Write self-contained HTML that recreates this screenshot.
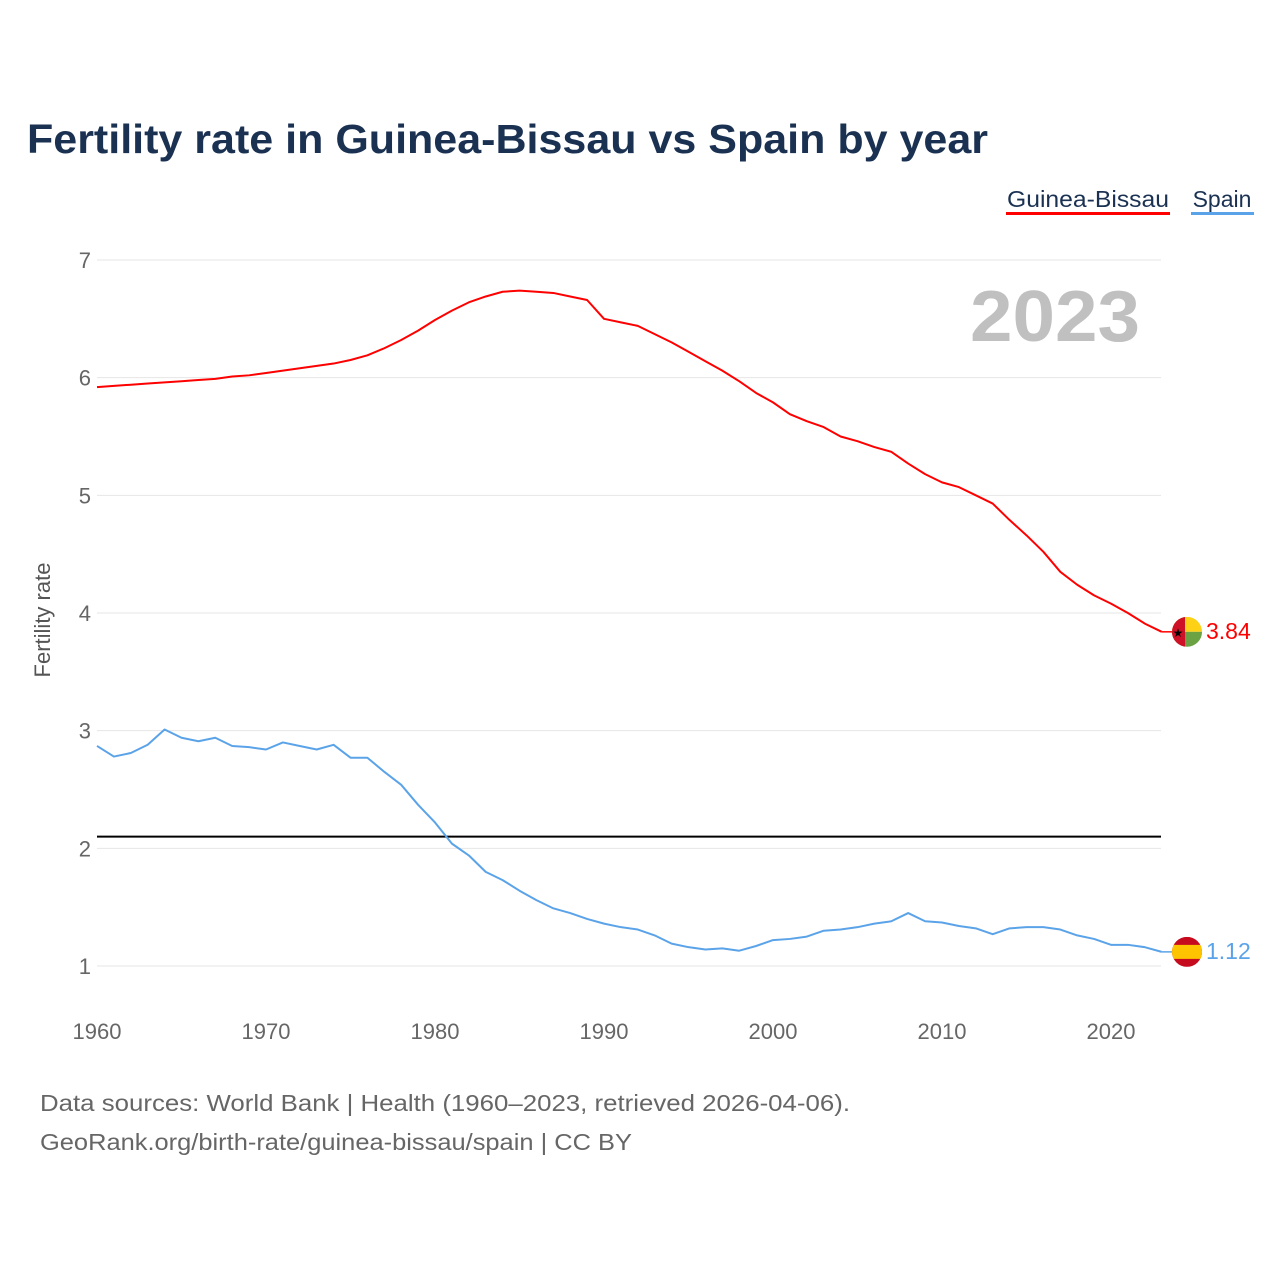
<!DOCTYPE html>
<html><head><meta charset="utf-8"><style>
body{margin:0;background:#fff;font-family:"Liberation Sans",sans-serif;}
svg{display:block}
</style></head><body>
<svg id="c" width="1280" height="1280" xmlns="http://www.w3.org/2000/svg">
<text x="27" y="153" font-size="41" font-weight="bold" fill="#1a3152" textLength="961" lengthAdjust="spacingAndGlyphs">Fertility rate in Guinea-Bissau vs Spain by year</text>
<g>
<text x="1088" y="207" font-size="23" fill="#1a3152" text-anchor="middle" textLength="162" lengthAdjust="spacingAndGlyphs">Guinea-Bissau</text>
<rect x="1006" y="212" width="164" height="3" fill="#ff0000"/>
<text x="1222" y="207" font-size="23" fill="#1a3152" text-anchor="middle">Spain</text>
<rect x="1191" y="212" width="63" height="3" fill="#5ba3e8"/>
</g>
<text x="1140" y="341" font-size="72" font-weight="bold" fill="#c0c0c0" text-anchor="end" textLength="170" lengthAdjust="spacingAndGlyphs">2023</text>
<text transform="translate(50,620) rotate(-90)" font-size="22" fill="#555" text-anchor="middle">Fertility rate</text>
<g id="grid"></g><g id="series"></g>
<text x="40" y="1111" font-size="23" fill="#666" textLength="810" lengthAdjust="spacingAndGlyphs">Data sources: World Bank | Health (1960–2023, retrieved 2026-04-06).</text>
<text x="40" y="1150" font-size="23" fill="#666" textLength="592" lengthAdjust="spacingAndGlyphs">GeoRank.org/birth-rate/guinea-bissau/spain | CC BY</text>
</svg>
<script>
const years=[];for(let y=1960;y<=2023;y++)years.push(y);
const guineaBissau=[5.92,5.93,5.94,5.95,5.96,5.97,5.98,5.99,6.01,6.02,6.04,6.06,6.08,6.10,6.12,6.15,6.19,6.25,6.32,6.40,6.49,6.57,6.64,6.69,6.73,6.74,6.73,6.72,6.69,6.66,6.50,6.47,6.44,6.37,6.30,6.22,6.14,6.06,5.97,5.87,5.79,5.69,5.63,5.58,5.50,5.46,5.41,5.37,5.27,5.18,5.11,5.07,5.00,4.93,4.79,4.66,4.52,4.35,4.24,4.15,4.08,4.00,3.91,3.84];
const spain=[2.87,2.78,2.81,2.88,3.01,2.94,2.91,2.94,2.87,2.86,2.84,2.90,2.87,2.84,2.88,2.77,2.77,2.65,2.54,2.37,2.22,2.04,1.94,1.80,1.73,1.64,1.56,1.49,1.45,1.40,1.36,1.33,1.31,1.26,1.19,1.16,1.14,1.15,1.13,1.17,1.22,1.23,1.25,1.30,1.31,1.33,1.36,1.38,1.45,1.38,1.37,1.34,1.32,1.27,1.32,1.33,1.33,1.31,1.26,1.23,1.18,1.18,1.16,1.12];
const yTicks=[1,2,3,4,5,6,7];
const xTicks=[1960,1970,1980,1990,2000,2010,2020];
const replacement=2.1;
const X=y=>97+(y-1960)*(1111-97)/60;
const Y=v=>966-(v-1)*(966-260)/6;
const NS="http://www.w3.org/2000/svg";
function mk(t,a,p){const e=document.createElementNS(NS,t);for(const k in a)e.setAttribute(k,a[k]);p.appendChild(e);return e;}
const g=document.getElementById('grid'),s=document.getElementById('series');
yTicks.forEach(v=>{
 const l=mk('line',{x1:97,x2:1161,y1:Y(v),y2:Y(v),stroke:'#e6e6e6','stroke-width':1},g);
 
 
 const t=mk('text',{x:91,y:Y(v)+8,'font-size':22,fill:'#666','text-anchor':'end'},g);t.textContent=v;
 
 
});
xTicks.forEach(v=>{
 const t=mk('text',{x:X(v),y:1039,'font-size':22,fill:'#666','text-anchor':'middle'},g);t.textContent=v;
 
 
});
const rl=mk('line',{x1:97,x2:1161,y1:Y(replacement),y2:Y(replacement),stroke:'#000','stroke-width':2},s);


function line(d,c,n){
 const p=mk('polyline',{points:d.map((v,i)=>X(years[i])+','+Y(v)).join(' '),fill:'none',stroke:c,'stroke-width':2,'stroke-linejoin':'round'},s);
 
 
 const last=d[d.length-1],lx=X(years[years.length-1]);
 const cl=mk('line',{x1:lx,x2:lx+12,y1:Y(last),y2:Y(last),stroke:c,'stroke-width':1.5},s);
 
 
 const t=mk('text',{x:1206,y:Y(last)+7,'font-size':23,fill:c},s);t.textContent=last.toFixed(2);
 
 
 return Y(last);
}
const gy=line(guineaBissau,'#ff0000','guinea-bissau');
const sy=line(spain,'#5ba3e8','spain');
const cx=1187;
const f1=mk('g',{},s);


mk('clipPath',{id:'c1'},f1).appendChild(document.createElementNS(NS,'circle'));
const cc1=f1.querySelector('circle');cc1.setAttribute('cx',cx);cc1.setAttribute('cy',gy);cc1.setAttribute('r',15);
const gg=mk('g',{'clip-path':'url(#c1)'},f1);
mk('rect',{x:cx-15,y:gy-15,width:30,height:15,fill:'#fcd116'},gg);
mk('rect',{x:cx-15,y:gy,width:30,height:15,fill:'#6ba243'},gg);
mk('rect',{x:cx-15,y:gy-15,width:13,height:30,fill:'#ce1126'},gg);
const st=mk('text',{x:cx-9,y:gy+5,'font-size':12,'text-anchor':'middle',fill:'#000'},f1);st.textContent='★';
const f2=mk('g',{},s);


mk('clipPath',{id:'c2'},f2).appendChild(document.createElementNS(NS,'circle'));
const cc2=f2.querySelector('circle');cc2.setAttribute('cx',cx);cc2.setAttribute('cy',sy);cc2.setAttribute('r',15);
const sg=mk('g',{'clip-path':'url(#c2)'},f2);
mk('rect',{x:cx-15,y:sy-15,width:30,height:30,fill:'#c60b1e'},sg);
mk('rect',{x:cx-15,y:sy-7,width:30,height:14,fill:'#ffc400'},sg);
</script>
</body></html>
